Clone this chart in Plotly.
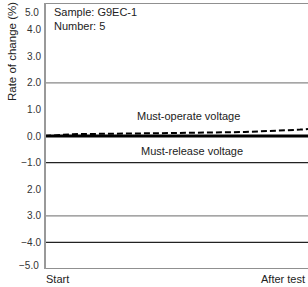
import plotly.graph_objects as go

# Data
progress = [0.0, 0.106, 0.475, 0.76, 0.97, 1.0]
must_operate = [0.0, 0.07, 0.11, 0.15, 0.24, 0.26]
must_release = [0.0, 0.0, 0.0, 0.0, 0.0, 0.0]

y_tickvals = [4, 3, 2, 1, 0, -1, -2, -3, -4]
y_ticktext = ["4.0", "3.0", "2.0", "1.0", "0.0", "−1.0", "2.0", "3.0", "−4.0"]
y_edge_vals = [5, -5]
y_edge_text = ["5.0", "−5.0"]
x_tickvals = [0.049, 0.906]
x_ticktext = ["Start", "After test"]

grid_dark = [5, -1, -4, -5]
grid_gray = [2, -3]

FONT = "Liberation Sans, Arial, sans-serif"

fig = go.Figure()
fig.add_trace(go.Scatter(x=progress, y=must_release, mode="lines",
                         line=dict(color="#000000", width=3), showlegend=False,
                         hoverinfo="skip"))
fig.add_trace(go.Scatter(x=progress, y=must_operate, mode="lines",
                         line=dict(color="#000000", width=2, dash="6px,3px"), showlegend=False,
                         hoverinfo="skip"))

shapes = []
for g in grid_dark:
    shapes.append(dict(type="line", xref="paper", x0=0, x1=1, yref="y", y0=g, y1=g,
                       line=dict(color="#222222", width=1.2), layer="below"))
for g in grid_gray:
    shapes.append(dict(type="line", xref="paper", x0=0, x1=1, yref="y", y0=g, y1=g,
                       line=dict(color="#888888", width=1.2), layer="below"))
shapes.append(dict(type="line", xref="paper", x0=0, x1=0, yref="paper", y0=0, y1=1,
                   line=dict(color="#999999", width=2)))

annotations = [
    dict(text="Rate of change (%)", xref="paper", yref="paper", x=-0.125, y=0.816,
         textangle=-90, showarrow=False, font=dict(size=11.5, color="#222222"),
         xanchor="center", yanchor="middle"),
    dict(text="Sample: G9EC-1<br>Number: 5", xref="paper", yref="paper", x=0.025, y=0.997,
         xanchor="left", yanchor="top", align="left", showarrow=False,
         font=dict(size=11, color="#222222")),
    dict(text="Must-operate voltage", xref="paper", yref="y", x=0.749, y=0.75,
         showarrow=False, font=dict(size=11, color="#222222")),
    dict(text="Must-release voltage", xref="paper", yref="y", x=0.76, y=-0.56,
         showarrow=False, font=dict(size=11, color="#222222")),
]
for v, t, ys in zip(y_edge_vals, y_edge_text, [-9, 4]):
    annotations.append(dict(text=t, xref="paper", yref="y", x=0, y=v, xanchor="right",
                            yanchor="middle", xshift=-4, yshift=ys, showarrow=False,
                            font=dict(size=10, color="#333333")))
for v, t in zip(x_tickvals, x_ticktext):
    annotations.append(dict(text=t, xref="x", yref="paper", x=v, y=0, xanchor="center",
                            yanchor="top", yshift=-2, showarrow=False,
                            font=dict(size=11, color="#222222")))

fig.update_layout(
    width=308, height=287,
    margin=dict(l=45, r=0, t=3, b=18),
    paper_bgcolor="white", plot_bgcolor="white",
    font=dict(family=FONT, color="#222222", size=11),
    shapes=shapes,
    xaxis=dict(range=[0, 1], showgrid=False, zeroline=False, showline=False,
               showticklabels=False, ticks=""),
    yaxis=dict(range=[-5, 5], showgrid=False, zeroline=False, showline=False,
               tickvals=y_tickvals, ticktext=y_ticktext, ticks="",
               ticklabelstandoff=3,
               tickfont=dict(size=10, color="#333333")),
    annotations=annotations,
)

fig.write_html("out.html", config={"displayModeBar": False},
               post_script="document.body.style.margin='0';document.body.style.overflow='hidden';")
